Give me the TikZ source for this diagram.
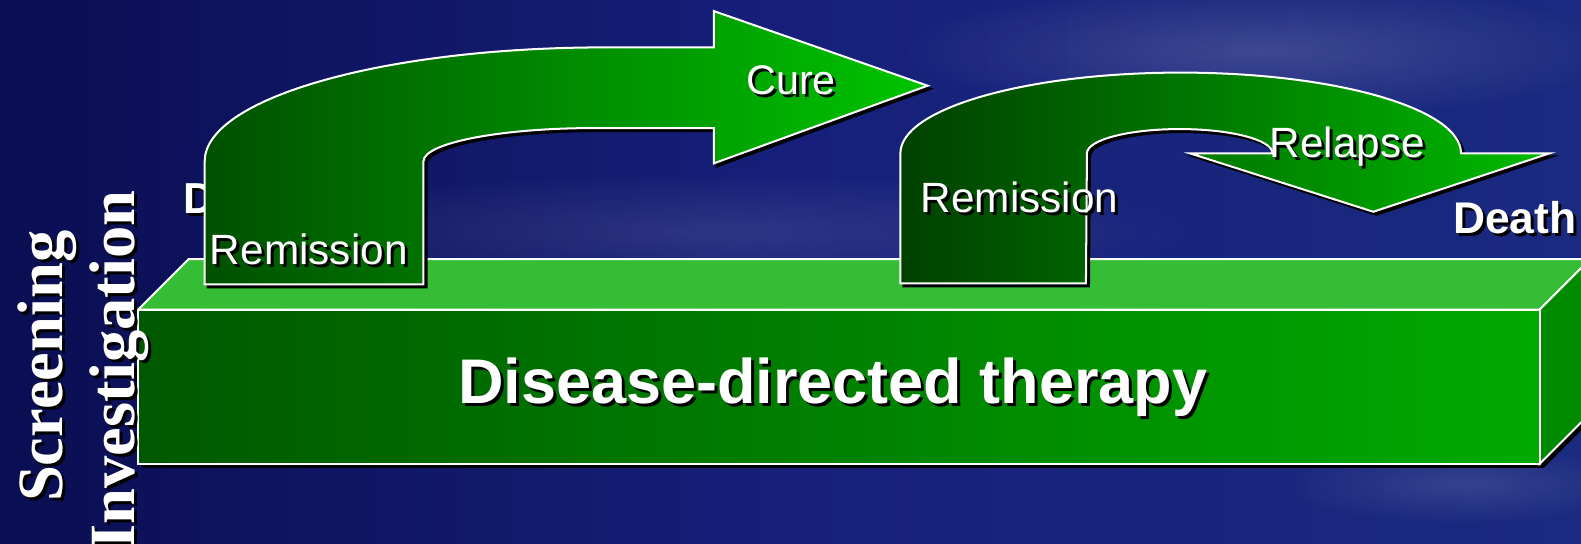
\documentclass[tikz,border=0pt]{standalone}
\usepackage{fontspec}
\setmainfont{Liberation Sans}
\newfontfamily\serifbold{Liberation Serif}
\usetikzlibrary{fadings}
\tikzfading[name=softfade, inner color=transparent!0, outer color=transparent!100]
\definecolor{bgL}{HTML}{0A0E52}
\definecolor{bgM}{HTML}{16207A}
\definecolor{bgR}{HTML}{1A2A80}
\definecolor{topc}{HTML}{35BD35}
\definecolor{frontL}{HTML}{005800}
\definecolor{frontR}{HTML}{00AA00}
\definecolor{sidec}{HTML}{008A00}
\definecolor{arrL}{HTML}{005000}
\definecolor{arrR}{HTML}{00C400}
\newcommand{\shlabel}[5]{%
  \node[text=black, inner sep=0pt, xshift=3pt, yshift=-3pt, #3, font=#4] (#1s) at (#2) {#5};
  \node[text=white, inner sep=0pt, #3, font=#4] (#1) at (#2) {#5};}
\begin{document}
\begin{tikzpicture}[x=1pt,y=-1pt,
  outl/.style={draw=white, line width=2pt, line join=miter},
  shadowed/.style={preaction={fill=black, draw=black, line width=2pt, transform canvas={shift={(3pt,-3pt)}}}}]
\useasboundingbox (0,0) rectangle (1568,539);
\clip (0,0) rectangle (1568,539);
% background
\shade[left color=bgL, right color=bgR, middle color=bgM] (0,0) rectangle (1568,539);
\fill[white, opacity=0.16, path fading=softfade] (1250,50) ellipse [x radius=360, y radius=70];
\fill[white, opacity=0.12, path fading=softfade] (1450,480) ellipse [x radius=180, y radius=40];
\fill[white, opacity=0.10, path fading=softfade] (700,230) ellipse [x radius=500, y radius=60];
% box
\fill[black] (141,311) -- (191,261) -- (1581,261) -- (1581,414) -- (1531,464) -- (141,464) -- cycle;
\fill[topc, outl] (137,307) -- (187,257) -- (1577,257) -- (1527,307) -- cycle;
\fill[sidec, outl] (1527,307) -- (1577,257) -- (1577,410) -- (1527,460) -- cycle;
\shade[left color=frontL, right color=frontR, outl] (137,307) rectangle (1527,460);
\shlabel{therapy}{826,400}{anchor=base}{\bfseries\fontsize{62.5}{66}\selectfont}{Disease-directed therapy}
% left texts
\shlabel{screen}{62,498}{rotate=90, anchor=base west}{\serifbold\bfseries\fontsize{64}{70}\selectfont}{Screening}
\shlabel{invest}{133,545}{rotate=90, anchor=base west}{\serifbold\bfseries\fontsize{64}{70}\selectfont}{Investigation}
\shlabel{dlabel}{182,212}{anchor=base west}{\bfseries\fontsize{43}{47}\selectfont}{D}
\shlabel{death}{1441,232}{anchor=base west}{\bfseries\fontsize{44}{48}\selectfont}{Death}
% relapse arrow
\path[outl, shadowed, left color=arrL!80!black, right color=arrR!95!black]
  (893,281) -- (893,152) arc[start angle=180, end angle=360, x radius=278, y radius=80]
  -- (1537,152) -- (1362,210) -- (1180,152) -- (1262,152)
  arc[start angle=0, end angle=-180, x radius=92, y radius=24]
  -- (1077,281) -- cycle;
% cure arrow
\path[outl, shadowed, left color=arrL, right color=arrR]
  (203,282) -- (203,160) arc[start angle=180, end angle=270, x radius=397, y radius=113]
  -- (708,47) -- (708,11) -- (920,85) -- (708,162) -- (708,127) -- (590,127)
  arc[start angle=270, end angle=180, x radius=170, y radius=33]
  -- (420,282) -- cycle;
\shlabel{rem1}{208,262}{anchor=base west}{\fontsize{42}{46}\selectfont}{Remission}
\shlabel{cure}{740,94}{anchor=base west}{\fontsize{41}{45}\selectfont}{Cure}
\shlabel{rem2}{913,211}{anchor=base west}{\fontsize{42}{46}\selectfont}{Remission}
\shlabel{relapse}{1259,156}{anchor=base west}{\fontsize{42}{46}\selectfont}{Relapse}
\end{tikzpicture}
\end{document}
